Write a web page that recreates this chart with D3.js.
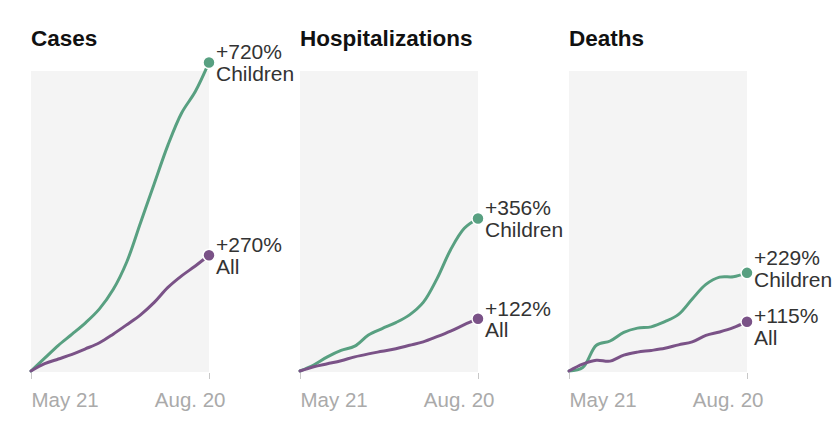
<!DOCTYPE html>
<html>
<head>
<meta charset="utf-8">
<script src="https://cdn.jsdelivr.net/npm/d3@7"></script>
<style>
  html, body { margin: 0; padding: 0; background: #fff; }
  svg { display: block; }
</style>
</head>
<body>
<svg id="chart" width="840" height="440"></svg>
<script>
// ---- Data (percent change since May 21, weekly) ----
const panels = ["Cases", "Hospitalizations", "Deaths"];
const dates = ["2021-05-21","2021-05-28","2021-06-04","2021-06-11","2021-06-18","2021-06-25",
               "2021-07-02","2021-07-09","2021-07-16","2021-07-23","2021-07-30","2021-08-06",
               "2021-08-13","2021-08-20"];
const tickLabels = ["May 21", "Aug. 20"];
const seriesNames = ["Children", "All"];
const casesChildren = [0, 30, 60, 86, 113, 145, 190, 255, 346, 437, 527, 602, 652, 720];
const casesAll      = [0, 17, 28, 39, 52, 66, 86, 108, 131, 160, 195, 222, 245, 270];
const hospChildren  = [0, 14, 33, 48, 58, 84, 99, 113, 131, 160, 215, 283, 333, 356];
const hospAll       = [0, 10, 17, 24, 33, 40, 46, 52, 60, 68, 80, 93, 108, 122];
const deathsChildren= [0, 8, 60, 70, 90, 100, 103, 115, 132, 168, 202, 219, 220, 229];
const deathsAll     = [0, 16, 25, 23, 37, 44, 48, 53, 61, 68, 83, 91, 101, 115];

const panelData = [
  [casesChildren, casesAll],
  [hospChildren, hospAll],
  [deathsChildren, deathsAll]
];

const colors = { Children: "#58a081", All: "#7a5287" };

const parse = d3.timeParse("%Y-%m-%d");
const dateObjs = dates.map(parse);

const svg = d3.select("#chart");
const panelLeft = [31, 300, 569];
const panelW = 178;

const y = d3.scaleLinear().domain([0, 700]).range([371, 71]);

panels.forEach((name, pi) => {
  const x0 = panelLeft[pi];
  const x = d3.scaleTime()
    .domain([dateObjs[0], dateObjs[dateObjs.length - 1]])
    .range([x0, x0 + panelW]);
  const g = svg.append("g");

  // background
  g.append("rect")
    .attr("x", x.range()[0]).attr("y", y(700))
    .attr("width", x.range()[1] - x.range()[0])
    .attr("height", y(0) - y(700) + 1)
    .attr("fill", "#f4f4f4");

  // title
  g.append("text")
    .attr("x", x0).attr("y", 46)
    .attr("font-family", "Liberation Sans, Arial, sans-serif")
    .attr("font-weight", "bold")
    .attr("font-size", 22.5)
    .attr("fill", "#111")
    .text(name);

  // axis
  const axis = d3.axisBottom(x)
    .tickValues([dateObjs[0], dateObjs[dateObjs.length - 1]])
    .tickSize(6)
    .tickPadding(11)
    .tickFormat((d, i) => tickLabels[i]);
  const ag = g.append("g").attr("transform", `translate(0,${y(0) + 2})`).call(axis);
  ag.select(".domain").remove();
  ag.selectAll(".tick line").attr("stroke", "#c8c8c8").attr("stroke-width", 1);
  ag.selectAll(".tick text")
    .attr("font-family", "Liberation Sans, Arial, sans-serif")
    .attr("font-size", 20.5)
    .attr("fill", "#aaaaaa")
    .attr("dy", "0.85em")
    .attr("text-anchor", (d, i) => i === 0 ? "start" : "end")
    .attr("x", (d, i) => i === 0 ? 0 : 16);

  const line = d3.line()
    .x((d, i) => x(dateObjs[i]))
    .y(d => y(d))
    .curve(d3.curveCatmullRom.alpha(0.5));

  // label positions with collision avoidance
  const ends = panelData[pi].map(vals => y(vals[vals.length - 1]) - 3);
  const minGap = 58;
  if (Math.abs(ends[0] - ends[1]) < minGap) {
    const mid = (ends[0] + ends[1]) / 2;
    ends[0] = mid - minGap / 2;
    ends[1] = mid + minGap / 2;
  }

  panelData[pi].forEach((vals, si) => {
    const sname = seriesNames[si];
    const c = colors[sname];
    g.append("path")
      .datum(vals)
      .attr("d", line)
      .attr("fill", "none")
      .attr("stroke", c)
      .attr("stroke-width", 3)
      .attr("stroke-linejoin", "round")
      .attr("stroke-linecap", "round");
  });

  panelData[pi].forEach((vals, si) => {
    const sname = seriesNames[si];
    const c = colors[sname];
    const last = vals[vals.length - 1];
    const lx = x(dateObjs[dateObjs.length - 1]);
    g.append("circle")
      .attr("cx", lx).attr("cy", y(last))
      .attr("r", 6)
      .attr("fill", c)
      .attr("stroke", "#fff")
      .attr("stroke-width", 1.5);
    const t = g.append("text")
      .attr("font-family", "Liberation Sans, Arial, sans-serif")
      .attr("font-size", 21)
      .attr("fill", "#333");
    t.append("tspan").attr("x", lx + 7).attr("y", ends[si]).text("+" + last + "%");
    t.append("tspan").attr("x", lx + 7).attr("y", ends[si] + 21.5).text(sname);
  });
});
</script>
</body>
</html>
